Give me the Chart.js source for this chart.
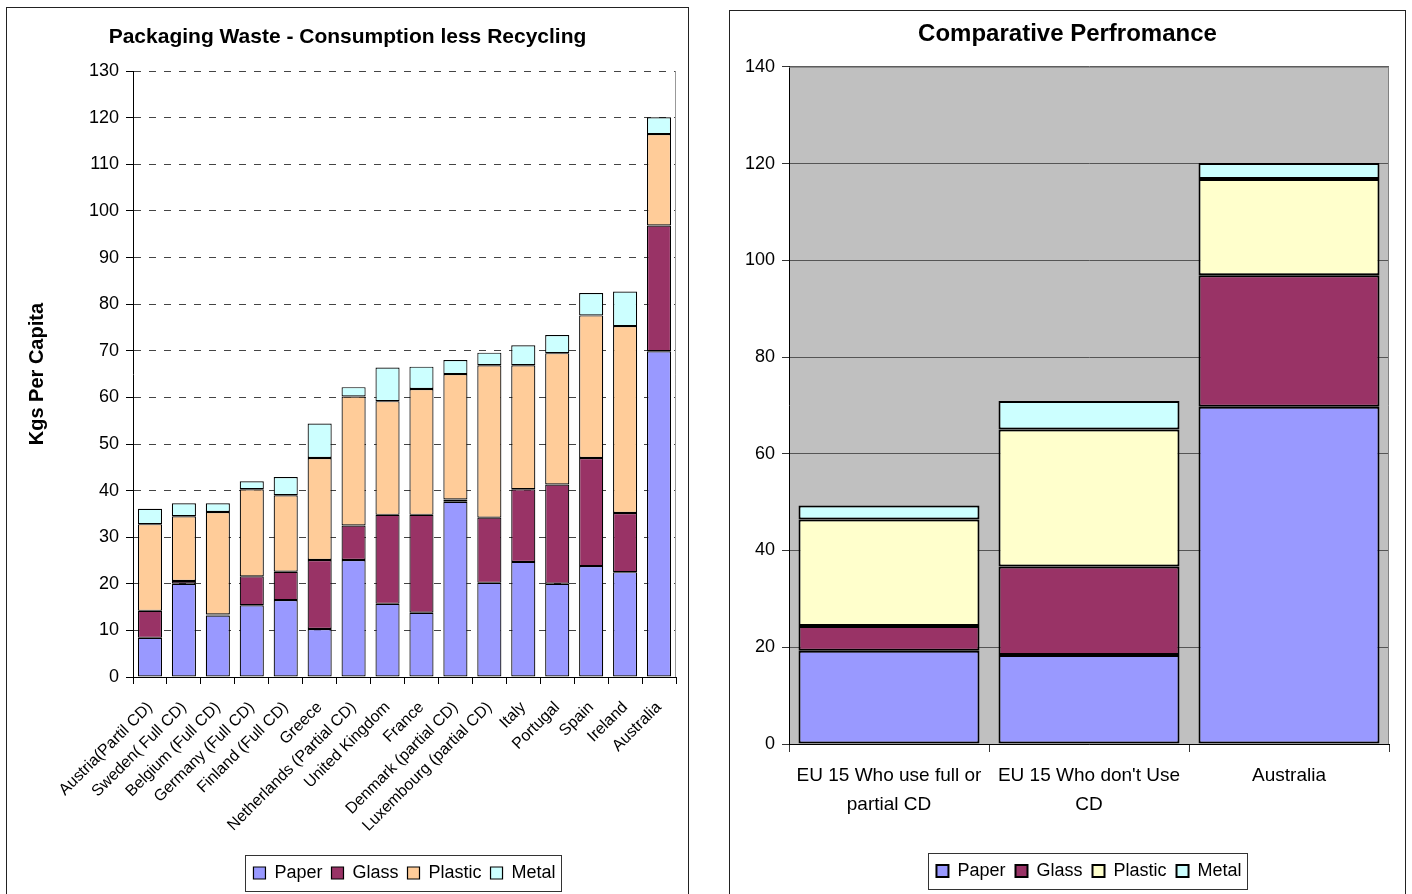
<!DOCTYPE html>
<html>
<head>
<meta charset="utf-8">
<title>Packaging Waste</title>
<script src="https://cdn.jsdelivr.net/npm/chart.js@4"></script>
<style>
  body { margin: 0; background: #fff; }
  .frame { position: absolute; border: 1px solid #222; border-bottom: none; background: #fff; }
  #left { left: 6px; top: 7px; width: 681px; height: 900px; }
  #right { left: 729px; top: 10px; width: 675px; height: 900px; }
  canvas { position: absolute; left: 0; top: 0; }
</style>
</head>
<body>
<div class="frame" id="left"><canvas id="waste-chart" width="681" height="886"></canvas></div>
<div class="frame" id="right"><canvas id="compare-chart" width="675" height="883"></canvas></div>
<script>
// left chart: kg per capita by country
const countries = ['Austria(Partil CD)', 'Sweden( Full CD)', 'Belgium (Full CD)', 'Germany (Full CD)',
  'Finland (Full CD)', 'Greece', 'Netherlands (Partial CD)', 'United Kingdom', 'France',
  'Denmark (partial CD)', 'Luxembourg (partial CD)', 'Italy', 'Portugal', 'Spain', 'Ireland', 'Australia'];
const paper   = [8.4, 20.0, 13.2, 15.4, 16.5, 10.3, 25.1, 15.7, 13.8, 37.6, 20.2, 24.7, 20.0, 23.8, 22.5, 69.9];
const glass   = [5.8, 0.6, 0.2, 6.2, 6.1, 14.8, 7.4, 19.1, 21.0, 0.5, 14.0, 15.6, 21.3, 23.2, 12.7, 27.0];
const plastic = [18.6, 13.9, 22.0, 18.7, 16.4, 21.9, 27.7, 24.4, 27.0, 26.9, 32.7, 26.6, 28.2, 30.6, 40.1, 19.6];
const metal   = [3.3, 2.8, 1.9, 1.7, 3.9, 7.4, 2.0, 7.2, 4.8, 3.0, 2.7, 4.3, 3.9, 4.8, 7.4, 3.6];

// right chart: grouped averages
const groups = [['EU 15 Who use full or', 'partial CD'], ["EU 15 Who don't Use", 'CD'], 'Australia'];
const groupPaper   = [19.3, 18.4, 69.7];
const groupGlass   = [5.1, 18.3, 27.2];
const groupPlastic = [22.0, 28.3, 19.9];
const groupMetal   = [2.9, 5.9, 3.3];

Chart.defaults.font.family = '"Liberation Sans", Arial, sans-serif';
Chart.defaults.color = '#000';
Chart.defaults.animation = false;

// plot area background + edges
const plotFrame = {
  id: 'plotFrame',
  beforeDraw(chart, args, opts) {
    const a = chart.chartArea, c = chart.ctx;
    if (opts.background) {
      c.save();
      c.fillStyle = opts.background;
      c.fillRect(a.left, a.top, a.right - a.left, a.bottom - a.top);
      c.restore();
    }
  },
  afterDraw(chart, args, opts) {
    const a = chart.chartArea, c = chart.ctx;
    c.save();
    c.strokeStyle = opts.color || '#999';
    c.lineWidth = 1;
    c.beginPath();
    if (opts.top) { c.moveTo(a.left, a.top + 0.5); c.lineTo(a.right, a.top + 0.5); }
    c.moveTo(a.right - 0.5, a.top); c.lineTo(a.right - 0.5, a.bottom);
    c.stroke();
    c.restore();
  }
};

// box round the legend, like Excel does
const legendFrame = {
  id: 'legendFrame',
  afterDraw(chart) {
    const boxes = chart.legend.legendHitBoxes;
    if (!boxes || !boxes.length) return;
    const l = Math.min(...boxes.map(b => b.left)) - 8;
    const r = Math.max(...boxes.map(b => b.left + b.width)) + 6;
    const t = boxes[0].top - 9;
    const h = boxes[0].height + 18;
    const c = chart.ctx;
    c.save();
    c.strokeStyle = '#333';
    c.lineWidth = 1;
    c.strokeRect(Math.round(l) + 0.5, Math.round(t) + 0.5, Math.round(r - l), Math.round(h));
    c.restore();
  }
};

function seg(label, data, color, bw) {
  return { label, data, backgroundColor: color, borderColor: '#000', borderWidth: bw, borderSkipped: false };
}

new Chart(document.getElementById('waste-chart'), {
  type: 'bar',
  data: {
    labels: countries,
    datasets: [
      seg('Paper', paper, '#9999FF', 1.2),
      seg('Glass', glass, '#993366', 1.2),
      seg('Plastic', plastic, '#FFCC99', 1.2),
      seg('Metal', metal, '#CCFFFF', 1.2)
    ]
  },
  options: {
    responsive: false,
    devicePixelRatio: 1,
    categoryPercentage: 1,
    barPercentage: 0.71,
    layout: { padding: { left: 12, right: 12, top: 0, bottom: 2 } },
    plugins: {
      title: {
        display: true,
        text: 'Packaging Waste - Consumption less Recycling',
        font: { size: 21, weight: 'bold' },
        padding: { top: 17, bottom: 21 }
      },
      legend: {
        position: 'bottom',
        fullSize: false,
        labels: { boxWidth: 12, boxHeight: 12, padding: 9, font: { size: 18 } }
      },
      tooltip: { enabled: false },
      plotFrame: { color: '#999' }
    },
    scales: {
      x: {
        stacked: true,
        grid: { drawOnChartArea: false, offset: true, tickLength: 7, tickColor: '#000' },
        border: { color: '#000' },
        ticks: { autoSkip: false, minRotation: 45, maxRotation: 45, padding: 14, font: { size: 16 } },
        afterFit: s => { s.height = 178; }
      },
      y: {
        stacked: true,
        min: 0,
        max: 130,
        ticks: { stepSize: 10, padding: 7, font: { size: 18 } },
        grid: { color: '#444', tickColor: '#000', tickLength: 7 },
        border: { color: '#000', dash: [7, 8] },
        title: {
          display: true,
          text: 'Kgs Per Capita',
          font: { size: 20, weight: 'bold' },
          padding: { top: 6, bottom: 0 }
        },
        afterFit: s => { s.width = 114; }
      }
    }
  },
  plugins: [plotFrame, legendFrame]
});

new Chart(document.getElementById('compare-chart'), {
  type: 'bar',
  data: {
    labels: groups,
    datasets: [
      seg('Paper', groupPaper, '#9999FF', 2),
      seg('Glass', groupGlass, '#993366', 2),
      seg('Plastic', groupPlastic, '#FFFFCC', 2),
      seg('Metal', groupMetal, '#CCFFFF', 2)
    ]
  },
  options: {
    responsive: false,
    devicePixelRatio: 1,
    categoryPercentage: 1,
    barPercentage: 0.905,
    layout: { padding: { left: 16, right: 16, top: 0, bottom: 4 } },
    plugins: {
      title: {
        display: true,
        text: 'Comparative Perfromance',
        font: { size: 24, weight: 'bold' },
        padding: { top: 9, bottom: 18 }
      },
      legend: {
        position: 'bottom',
        fullSize: false,
        labels: { boxWidth: 12, boxHeight: 12, padding: 10, font: { size: 18 } }
      },
      tooltip: { enabled: false },
      plotFrame: { background: '#C0C0C0', color: '#808080', top: true }
    },
    scales: {
      x: {
        stacked: true,
        grid: { drawOnChartArea: false, offset: true, tickLength: 8, tickColor: '#333' },
        border: { color: '#000' },
        ticks: { padding: 9, font: { size: 19, lineHeight: 1.55 } },
        afterFit: s => { s.height = 108; }
      },
      y: {
        stacked: true,
        min: 0,
        max: 140,
        ticks: { stepSize: 20, padding: 7, font: { size: 18 } },
        grid: { color: '#555', tickColor: '#333', tickLength: 7 },
        border: { color: '#000' },
        afterFit: s => { s.width = 43; }
      }
    }
  },
  plugins: [plotFrame, legendFrame]
});
</script>
</body>
</html>
